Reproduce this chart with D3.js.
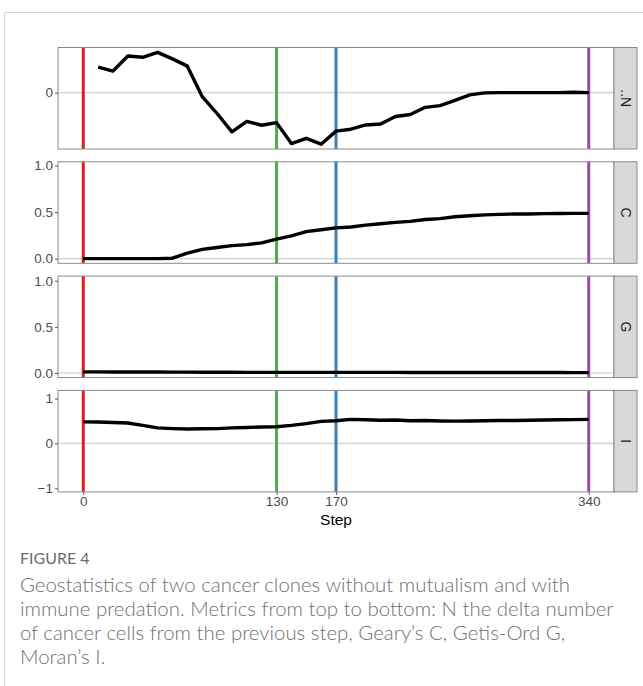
<!DOCTYPE html>
<html>
<head>
<meta charset="utf-8">
<script src="https://cdn.jsdelivr.net/npm/d3@7"></script>
<style>
  html, body { margin: 0; padding: 0; background: #fff; }
  svg { display: block; }
</style>
</head>
<body>
<div class="chart"></div>
<script>
// x positions of every sample
const steps = [0, 10, 20, 30, 40, 50, 60, 70, 80, 90, 100, 110, 120, 130, 140, 150, 160, 170,
  180, 190, 200, 210, 220, 230, 240, 250, 260, 270, 280, 290, 300, 310, 320, 330, 340];

// delta N has no value at step 0
const nValues = [null, 26, 22, 37.4, 36, 41, 34.4, 27, -4, -21.3, -40, -29.3, -33.3, -30.6, -52,
  -46.6, -52.6, -39.3, -37.3, -33, -32, -24.3, -22.3, -15, -13.3, -8, -2.3, -0.3, 0, 0, 0, 0, 0, 0.4, 0];
const cValues = [0, 0, 0, 0, 0, 0, 0.005, 0.06, 0.1, 0.12, 0.14, 0.15, 0.17, 0.21, 0.245, 0.29, 0.31,
  0.33, 0.34, 0.36, 0.375, 0.39, 0.4, 0.42, 0.43, 0.45, 0.46, 0.47, 0.475, 0.48, 0.48, 0.483, 0.485, 0.486, 0.486];
const gValues = [0.012, 0.012, 0.011, 0.011, 0.01, 0.01, 0.009, 0.009, 0.008, 0.008, 0.008, 0.007, 0.007,
  0.007, 0.007, 0.007, 0.007, 0.007, 0.007, 0.007, 0.007, 0.007, 0.006, 0.006, 0.006, 0.006, 0.006, 0.006,
  0.005, 0.005, 0.005, 0.005, 0.005, 0.004, 0.004];
const iValues = [0.48, 0.475, 0.465, 0.455, 0.4, 0.345, 0.33, 0.32, 0.325, 0.33, 0.345, 0.355, 0.365, 0.37,
  0.4, 0.44, 0.49, 0.505, 0.535, 0.525, 0.515, 0.52, 0.505, 0.51, 0.5, 0.495, 0.5, 0.505, 0.51, 0.51,
  0.515, 0.52, 0.525, 0.53, 0.535];

const panelLabels = ["..N", "C", "G", "I"];
const panelDomains = [[-57.5, 46], [-0.05, 1.04], [-0.05, 1.05], [-1.08, 1.18]];
const panelTicks = [[0], [0, 0.5, 1], [0, 0.5, 1], [-1, 0, 1]];
const panelTickLabels = [["0"], ["0.0", "0.5", "1.0"], ["0.0", "0.5", "1.0"], ["\u22121", "0", "1"]];

const eventSteps = [0, 130, 170, 340];
const eventColors = ["#E41A1C", "#4DAF4A", "#377EB8", "#984EA3"];

const captionTitle = "FIGURE 4";
const captionLines = [
  "Geostatistics of two cancer clones without mutualism and with",
  "immune predation. Metrics from top to bottom: N the delta number",
  "of cancer cells from the previous step, Geary\u2019s C, Getis-Ord G,",
  "Moran\u2019s I."
];

const W = 643, H = 686;
const left = 58, right = 614, stripW = 23;
const top0 = 47.5, panelH = 101.5, panelStep = 114.3;
const axisFont = "'Liberation Sans', Arial, sans-serif";

const svg = d3.select(".chart").append("svg")
  .attr("width", W).attr("height", H)
  .style("font-family", axisFont);

// outer frame of the figure box
svg.append("path")
  .attr("d", `M4.5,${H} V12.5 H${W}`)
  .attr("fill", "none").attr("stroke", "#d6d6d6").attr("stroke-width", 1);

const x = d3.scaleLinear().domain([-17, 357]).range([left, right]);

const series = [nValues, cValues, gValues, iValues];

series.forEach((vals, i) => {
  const pt = top0 + i * panelStep;
  const y = d3.scaleLinear().domain(panelDomains[i]).range([pt + panelH, pt]);
  const g = svg.append("g");

  // zero reference line
  g.append("line")
    .attr("x1", left).attr("x2", right)
    .attr("y1", y(0)).attr("y2", y(0))
    .attr("stroke", "#d9d9d9").attr("stroke-width", 1.6);

  // event markers
  g.selectAll(".ev").data(eventSteps).join("line")
    .attr("x1", d => x(d)).attr("x2", d => x(d))
    .attr("y1", pt).attr("y2", pt + panelH)
    .attr("stroke", (d, k) => eventColors[k]).attr("stroke-width", 3);

  const line = d3.line()
    .defined(d => d[1] !== null)
    .x(d => x(d[0])).y(d => y(d[1]));

  g.append("path")
    .datum(steps.map((s, k) => [s, vals[k]]))
    .attr("d", line)
    .attr("fill", "none").attr("stroke", "#000")
    .attr("stroke-width", 3.4).attr("stroke-linejoin", "round");

  // panel border
  g.append("rect")
    .attr("x", left).attr("y", pt).attr("width", right - left).attr("height", panelH)
    .attr("fill", "none").attr("stroke", "#8a8a8a").attr("stroke-width", 1);

  // y axis
  const yAxis = d3.axisLeft(y).tickValues(panelTicks[i]).tickSize(3).tickPadding(2)
    .tickFormat((d, k) => panelTickLabels[i][k]);
  const ya = g.append("g").attr("transform", `translate(${left},0)`).call(yAxis)
    .attr("font-size", null).attr("font-family", null);
  ya.select(".domain").remove();
  ya.selectAll(".tick line").attr("stroke", "#555");
  ya.selectAll(".tick text").attr("fill", "#4d4d4d")
    .style("font-size", "13.5px").style("font-family", axisFont);

  // strip
  g.append("rect")
    .attr("x", right).attr("y", pt).attr("width", stripW).attr("height", panelH)
    .attr("fill", "#d9d9d9").attr("stroke", "#8a8a8a").attr("stroke-width", 1);
  g.append("text")
    .attr("transform", `translate(${right + stripW / 2},${pt + panelH / 2}) rotate(90)`)
    .attr("text-anchor", "middle").attr("dy", "0.35em")
    .attr("fill", "#1a1a1a").style("font-size", "14px")
    .text(panelLabels[i]);

  if (i === series.length - 1) {
    const xa = g.append("g").attr("transform", `translate(0,${pt + panelH})`)
      .call(d3.axisBottom(x).tickValues(eventSteps).tickSize(3).tickPadding(2))
      .attr("font-size", null).attr("font-family", null);
    xa.select(".domain").remove();
    xa.selectAll(".tick line").attr("stroke", "#555");
    xa.selectAll(".tick text").attr("fill", "#4d4d4d")
      .style("font-size", "13.5px").style("font-family", axisFont);
    g.append("text")
      .attr("x", (left + right) / 2).attr("y", pt + panelH + 33)
      .attr("text-anchor", "middle").attr("fill", "#000")
      .style("font-size", "15.5px").text("Step");
  }
});

// caption
const cap = svg.append("g").style("font-family", "Lato, 'Open Sans', sans-serif");
cap.append("text")
  .attr("x", 20).attr("y", 564)
  .attr("fill", "#6b6b6b").style("font-size", "16px")
  .text(captionTitle);
cap.selectAll(".cl").data(captionLines).join("text")
  .attr("x", 20).attr("y", (d, k) => 592 + k * 24)
  .attr("fill", "#707070").style("font-size", "20.4px").style("font-weight", 300)
  .text(d => d);
</script>
</body>
</html>
